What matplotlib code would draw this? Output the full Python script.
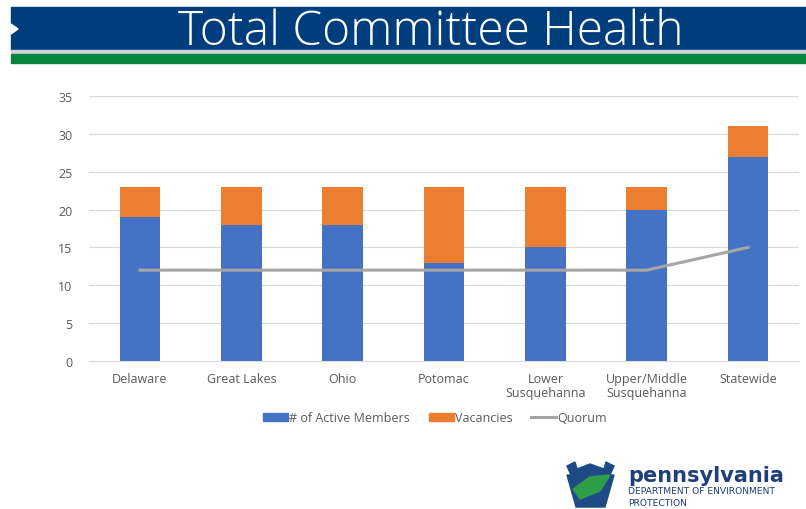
import matplotlib
matplotlib.use("Agg")
import matplotlib.pyplot as plt
from matplotlib.patches import Rectangle, Polygon
from matplotlib.lines import Line2D

categories = ["Delaware", "Great Lakes", "Ohio", "Potomac", "Lower\nSusquehanna",
              "Upper/Middle\nSusquehanna", "Statewide"]
active = [19, 18, 18, 13, 15, 20, 27]
vacancies = [4, 5, 5, 10, 8, 3, 4]
quorum = [12, 12, 12, 12, 12, 12, 15]
yticks = [0, 5, 10, 15, 20, 25, 30, 35]

W, H = 806, 510
fig = plt.figure(figsize=(W / 100, H / 100), dpi=100)
fig.patch.set_facecolor("white")

def fx(px):
    return px / W

def fy(py):
    return 1 - py / H

# Banner
bg = fig.add_axes([0, 0, 1, 1], zorder=0)
bg.set_xlim(0, W)
bg.set_ylim(H, 0)
bg.axis("off")
bg.add_patch(Rectangle((11, 8), W - 11, 43, color="#003D7C"))
bg.add_patch(Rectangle((11, 51), W - 11, 3, color="#D0D5DD"))
bg.add_patch(Rectangle((11, 55), W - 11, 9, color="#07853D"))
bg.add_patch(Polygon([(11, 25), (18, 30), (11, 35)], closed=True, color="white"))
bg.text(431, 33, "Total Committee Health", color="white", fontsize=34.5,
        family="Open Sans", fontweight=300, ha="center", va="center")

# Logo
bg.add_patch(Polygon([(567, 467), (575, 463), (577, 470), (590, 465), (604, 470),
                      (606, 463), (614, 467), (610, 476), (614, 476), (605, 508),
                      (576, 508), (567, 476), (571, 476)], closed=True, color="#1E4A86"))
bg.add_patch(Polygon([(573, 490), (590, 478), (610, 476), (600, 492), (580, 500)],
                     closed=True, color="#2E9E48"))
bg.text(628, 476, "pennsylvania", color="#1E3F7B", fontsize=15, fontweight="bold",
        family="DejaVu Sans", ha="left", va="center")
bg.text(628, 492, "DEPARTMENT OF ENVIRONMENT", color="#1E3F7B", fontsize=6.6,
        family="DejaVu Sans", ha="left", va="center")
bg.text(628, 504, "PROTECTION", color="#1E3F7B", fontsize=6.6,
        family="DejaVu Sans", ha="left", va="center")

# Chart
ax = fig.add_axes([fx(89.3), fy(362), fx(798.7) - fx(89.3), fy(97) - fy(362)], zorder=1)
ax.set_facecolor("none")
x = list(range(len(categories)))
blue, orange, grey = "#4472C4", "#ED7D31", "#A5A5A5"
ax.bar(x, active, width=0.4, color=blue, label="# of Active Members", zorder=2)
ax.bar(x, vacancies, width=0.4, bottom=active, color=orange, label="Vacancies", zorder=2)
ax.plot(x, quorum, color=grey, lw=2.2, label="Quorum", zorder=3)
ax.set_xlim(-0.5, len(categories) - 0.5)
ax.set_ylim(0, 35)
ax.set_yticks(yticks)
ax.set_xticks(x)
ax.set_xticklabels(categories, family="Open Sans", fontsize=9, color="#595959",
                   linespacing=1.05)
ax.tick_params(axis="y", labelsize=9, labelcolor="#595959", length=0, pad=12)
ax.tick_params(axis="x", length=0, pad=8)
for lab in ax.get_yticklabels():
    lab.set_family("Open Sans")
ax.grid(axis="y", color="#D9D9D9", lw=0.8, zorder=0)
for s in ["top", "right", "left"]:
    ax.spines[s].set_visible(False)
ax.spines["bottom"].set_color("#D9D9D9")

handles = [Rectangle((0, 0), 1, 1, color=blue), Rectangle((0, 0), 1, 1, color=orange),
           Line2D([0], [0], color=grey, lw=2.2)]
fig.legend(handles, ["# of Active Members", "Vacancies", "Quorum"], loc="center",
           bbox_to_anchor=(fx(435), fy(419)), ncol=3, frameon=False,
           prop={"family": "Open Sans", "size": 9}, labelcolor="#595959",
           handlelength=2.0, handleheight=0.6, handletextpad=0.1, columnspacing=1.5)

fig.savefig("out.png", dpi=100, facecolor="white")
